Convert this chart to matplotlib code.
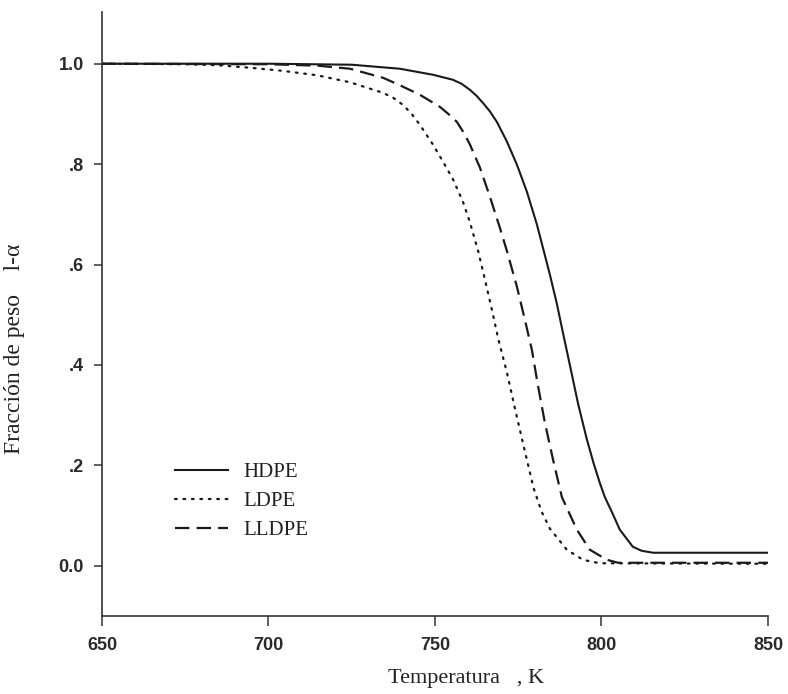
import matplotlib
matplotlib.use("Agg")
import matplotlib.pyplot as plt

# Temperature (K) and weight fraction (1 - alpha) for each polyethylene
hdpe_t = [650, 700, 725, 739.5, 749.4, 755.4, 758, 760.5, 762.5, 764.4, 766.5,
          768.6, 771.6, 774.6, 777.6, 780.6, 782.4, 784.5, 786.6, 788.4, 790.5,
          793, 795.6, 797.6, 799.5, 801, 803.2, 805.5, 809.4, 812, 815.5, 850]
hdpe_y = [1.0, 1.0, 0.998, 0.99, 0.978, 0.968, 0.96, 0.948, 0.936, 0.922, 0.905,
          0.884, 0.845, 0.799, 0.745, 0.68, 0.634, 0.58, 0.522, 0.465, 0.40,
          0.322, 0.252, 0.205, 0.165, 0.137, 0.106, 0.072, 0.038, 0.03, 0.026, 0.026]

ldpe_t = [650, 675, 685, 694.4, 704, 714.6, 724.5, 734.4, 737.5, 740.4, 743, 745.5,
          749.4, 752.4, 755.4, 758.4, 760.5, 763, 765, 767.1, 769, 771.6, 774.3,
          777, 779.6, 782, 784.5, 789.6, 794.4, 799.5, 850]
ldpe_y = [1.0, 0.999, 0.997, 0.992, 0.986, 0.977, 0.963, 0.942, 0.932, 0.918, 0.9,
          0.878, 0.839, 0.805, 0.77, 0.725, 0.684, 0.626, 0.57, 0.51, 0.452, 0.385,
          0.305, 0.228, 0.155, 0.108, 0.074, 0.032, 0.012, 0.005, 0.004]

lldpe_t = [650, 700, 715, 724.5, 734.4, 739.5, 745.5, 751.5, 754, 756.6, 758.5,
           760.5, 763.5, 766.5, 769.5, 771.6, 774.6, 777, 779.1, 780.9, 783, 785.5,
           788.1, 792.6, 796.5, 801.6, 805, 850]
lldpe_y = [1.0, 0.999, 0.996, 0.99, 0.972, 0.957, 0.938, 0.914, 0.9, 0.884, 0.864,
           0.839, 0.793, 0.735, 0.673, 0.627, 0.556, 0.49, 0.43, 0.36, 0.285, 0.21,
           0.137, 0.072, 0.032, 0.012, 0.006, 0.006]

x_ticks = [650, 700, 750, 800, 850]
y_ticks = [0.0, 0.2, 0.4, 0.6, 0.8, 1.0]
y_tick_labels = ["0.0", ".2", ".4", ".6", ".8", "1.0"]

fig = plt.figure(figsize=(7.88, 6.94), dpi=100)
ax = fig.add_axes([0.1294, 0.1124, 0.8452, 0.8703])

ink = "#1a1a1a"
ax.plot(hdpe_t, hdpe_y, color=ink, lw=1.5, ls="-", label="HDPE")
ax.plot(ldpe_t, ldpe_y, color=ink, lw=1.6, ls=(0, (0.8, 3.0)),
        dash_capstyle="round", label="LDPE")
ax.plot(lldpe_t, lldpe_y, color=ink, lw=1.6, ls=(0, (6.5, 3.2)), label="LLDPE")

ax.set_xlim(650, 850)
ax.set_ylim(-0.1, 1.103)
ax.set_xticks(x_ticks)
ax.set_yticks(y_ticks)
ax.set_yticklabels(y_tick_labels)

for side in ("top", "right"):
    ax.spines[side].set_visible(False)
for side in ("left", "bottom"):
    ax.spines[side].set_color("#333333")
    ax.spines[side].set_linewidth(1.2)

ax.tick_params(direction="out", width=1.1, color="#333333",
               labelsize=13, labelcolor="#2a2a2a")
ax.tick_params(axis="y", length=6, pad=7)
ax.tick_params(axis="x", length=7, pad=8)
for lbl in ax.get_xticklabels() + ax.get_yticklabels():
    lbl.set_family("Liberation Sans")
    lbl.set_fontweight("bold")

ax.set_xlabel("Temperatura   , K", family="Liberation Serif", fontsize=16,
              color="#222222")
ax.xaxis.set_label_coords(0.547, -0.087)
ax.set_ylabel("Fracción de peso    l-α", family="Liberation Serif", fontsize=17,
              color="#222222")
ax.yaxis.set_label_coords(-0.116, 0.442)

leg = ax.legend(loc="upper left", bbox_to_anchor=(0.11, 0.254), frameon=False,
                borderpad=0, borderaxespad=0, handlelength=2.55,
                handletextpad=0.72, labelspacing=0.45,
                prop={"family": "Liberation Serif", "size": 15})
for t in leg.get_texts():
    t.set_color("#222222")

fig.savefig("out.png", dpi=100)
